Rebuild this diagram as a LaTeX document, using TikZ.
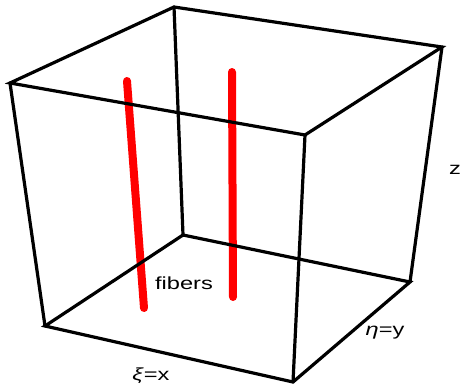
\documentclass[tikz,border=0pt]{standalone}
\usepackage{fontspec}
\setmainfont{Liberation Sans}
\newfontfamily\lblfont[FakeStretch=1.35]{Liberation Sans}
\begin{document}
\begin{tikzpicture}[x=1pt,y=-1pt,
  edge/.style={line width=3.2pt,line join=miter,line cap=round},
  fiber/.style={line width=8pt,red,line cap=round},
  lbl/.style={font=\lblfont\fontsize{17.5}{20}\selectfont,inner sep=0pt,anchor=base}]
\useasboundingbox (0,0) rectangle (464,386);
\coordinate (TFL) at (10,83);
\coordinate (TBL) at (174,7);
\coordinate (TBR) at (442,47);
\coordinate (TFR) at (305,135);
\coordinate (BBL) at (183,235);
\coordinate (BFL) at (45,326);
\coordinate (BFR) at (293,382);
\coordinate (BBR) at (410,282);
\coordinate (F1a) at (127,81);
\coordinate (F1b) at (144,308);
\coordinate (F2a) at (232,72);
\coordinate (F2b) at (233,297);
\draw[fiber] (F1a) -- (F1b);
\draw[fiber] (F2a) -- (F2b);
\draw[edge] (TFL) -- (TBL) -- (TBR) -- (TFR) -- cycle;
\draw[edge] (BFL) -- (BFR) -- (BBR) -- (BBL) -- cycle;
\draw[edge] (TFL) -- (BFL);
\draw[edge] (TBL) -- (BBL);
\draw[edge] (TBR) -- (BBR);
\draw[edge] (TFR) -- (BFR);
\node[lbl] (fib) at (184,289) {fibers};
\node[lbl] (zl) at (455,174) {z};
\node[lbl] (eta) at (385,335) {\textit{η}=y};
\node[lbl] (xi) at (151,380) {\textit{ξ}=x};
\end{tikzpicture}
\end{document}
